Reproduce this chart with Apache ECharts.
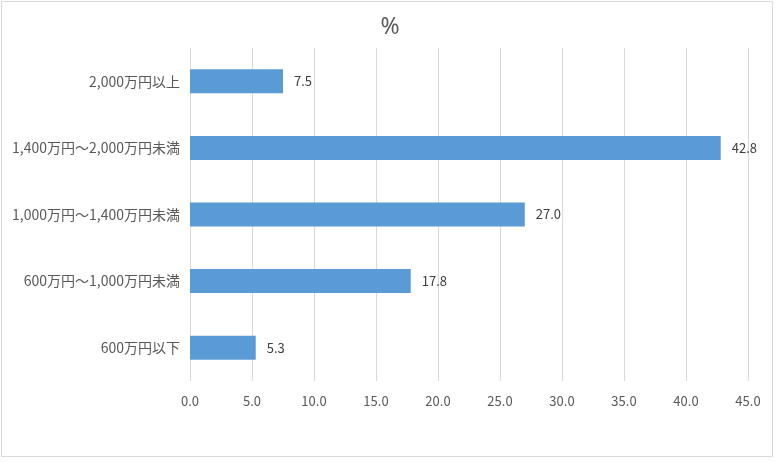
<!DOCTYPE html>
<html><head><meta charset="utf-8">
<script src="https://cdn.jsdelivr.net/npm/echarts@6/dist/echarts.min.js"></script>
<style>html,body{margin:0;padding:0;background:#fff}#c{width:780px;height:462px}</style>
</head><body><div id="c"></div>
<script>
const categories = ['600万円以下','600万円～1,000万円未満','1,000万円～1,400万円未満','1,400万円～2,000万円未満','2,000万円以上'];
const values = [5.3, 17.8, 27.0, 42.8, 7.5];
const titleText = '%';
const FONT = '"Noto Sans CJK JP", "Noto Sans", sans-serif';
const chart = echarts.init(document.getElementById('c'), null, {renderer:'canvas'});
chart.setOption({
  animation:false,
  backgroundColor:'#fff',
  graphic:[{type:'rect',shape:{x:1.5,y:1.5,width:771,height:455},style:{fill:'none',stroke:'#d9d9d9',lineWidth:1}}],
  title:{text:titleText,left:'center',top:11,textStyle:{fontFamily:'"Noto Sans", sans-serif',fontSize:23,fontWeight:'normal',color:'#595959'}},
  grid:{left:190,right:32,top:48,bottom:81,containLabel:false},
  xAxis:{type:'value',min:0,max:45,interval:5,
    axisLine:{show:false},axisTick:{show:false},
    splitLine:{show:true,lineStyle:{color:'#d9d9d9',width:1}},
    axisLabel:{margin:14,fontFamily:FONT,fontSize:13,color:'#595959',formatter:v=>v.toFixed(1)}},
  yAxis:{type:'category',data:categories,
    axisLine:{show:false},axisTick:{show:false},
    axisLabel:{margin:10,fontFamily:FONT,fontSize:14,color:'#595959'}},
  series:[{type:'bar',data:values,barCategoryGap:'64%',
    itemStyle:{color:'#5b9bd5'},
    label:{show:true,position:'right',distance:11,fontFamily:FONT,fontSize:13,color:'#404040',formatter:p=>p.value.toFixed(1)}}]
});
</script></body></html>
